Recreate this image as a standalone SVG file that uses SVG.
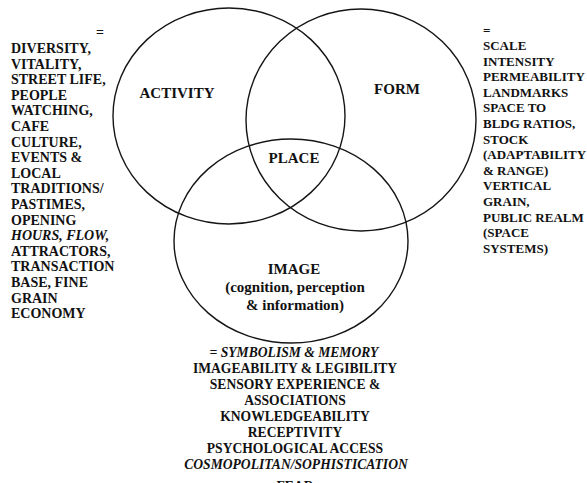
<svg xmlns="http://www.w3.org/2000/svg" width="587" height="483" viewBox="0 0 587 483">
<style>
.c{fill:none;stroke:#151515;stroke-width:1.4}
text{font-family:'Liberation Serif','DejaVu Serif',serif;font-weight:bold;fill:#111}
.lbl{font-size:15px;text-anchor:middle}
.mid{text-anchor:middle}
.it{font-style:italic}
</style>
<rect width="587" height="483" fill="#fff"/>
<g id="activity">
<ellipse class="c" cx="229" cy="116" rx="116" ry="108"/>
<text class="lbl" x="177" y="98" font-family="Liberation Serif, serif">ACTIVITY</text>
</g>
<g id="form">
<ellipse class="c" cx="361" cy="120" rx="115" ry="111"/>
<text class="lbl" x="397" y="94">FORM</text>
</g>
<g id="image">
<ellipse class="c" cx="291" cy="241" rx="117" ry="102"/>
<text class="lbl" x="294" y="274">IMAGE</text>
<text class="lbl" x="295" y="292">(cognition, perception</text>
<text class="lbl" x="295" y="310">&amp; information)</text>
</g>
<g id="place">
<text class="lbl" x="294" y="163">PLACE</text>
</g>
<g id="activity-list" font-size="14">
<text x="96" y="37">=</text>
<text x="11" y="53">DIVERSITY,</text>
<text x="11" y="68.6">VITALITY,</text>
<text x="11" y="84.2">STREET LIFE,</text>
<text x="11" y="99.8">PEOPLE</text>
<text x="11" y="115.4">WATCHING,</text>
<text x="11" y="131">CAFE</text>
<text x="11" y="146.6">CULTURE,</text>
<text x="11" y="162.2">EVENTS &amp;</text>
<text x="11" y="177.8">LOCAL</text>
<text x="11" y="193.4">TRADITIONS/</text>
<text x="11" y="209">PASTIMES,</text>
<text x="11" y="224.6">OPENING</text>
<text x="11" y="240.2" class="it">HOURS, FLOW,</text>
<text x="11" y="255.8">ATTRACTORS,</text>
<text x="11" y="271.4">TRANSACTION</text>
<text x="11" y="287">BASE, FINE</text>
<text x="11" y="302.6">GRAIN</text>
<text x="11" y="318.2">ECONOMY</text>
</g>
<g id="form-list" font-size="13">
<text x="483" y="35">=</text>
<text x="483" y="50">SCALE</text>
<text x="483" y="65.6">INTENSITY</text>
<text x="483" y="81.2">PERMEABILITY</text>
<text x="483" y="96.8">LANDMARKS</text>
<text x="483" y="112.4">SPACE TO</text>
<text x="483" y="128">BLDG RATIOS,</text>
<text x="483" y="143.6">STOCK</text>
<text x="483" y="159.2">(ADAPTABILITY</text>
<text x="483" y="174.8">&amp; RANGE)</text>
<text x="483" y="190.4">VERTICAL</text>
<text x="483" y="206">GRAIN,</text>
<text x="483" y="221.6">PUBLIC REALM</text>
<text x="483" y="237.2">(SPACE</text>
<text x="483" y="252.8">SYSTEMS)</text>
</g>
<g id="image-list" class="mid" font-size="13.6">
<text x="294" y="357" class="it">= SYMBOLISM &amp; MEMORY</text>
<text x="295" y="373">IMAGEABILITY &amp; LEGIBILITY</text>
<text x="295" y="389">SENSORY EXPERIENCE &amp;</text>
<text x="295" y="405">ASSOCIATIONS</text>
<text x="295" y="421">KNOWLEDGEABILITY</text>
<text x="295" y="437">RECEPTIVITY</text>
<text x="295" y="453">PSYCHOLOGICAL ACCESS</text>
<text x="296" y="469" class="it">COSMOPOLITAN/SOPHISTICATION</text>
<text x="295" y="491">FEAR</text>
</g>
</svg>
